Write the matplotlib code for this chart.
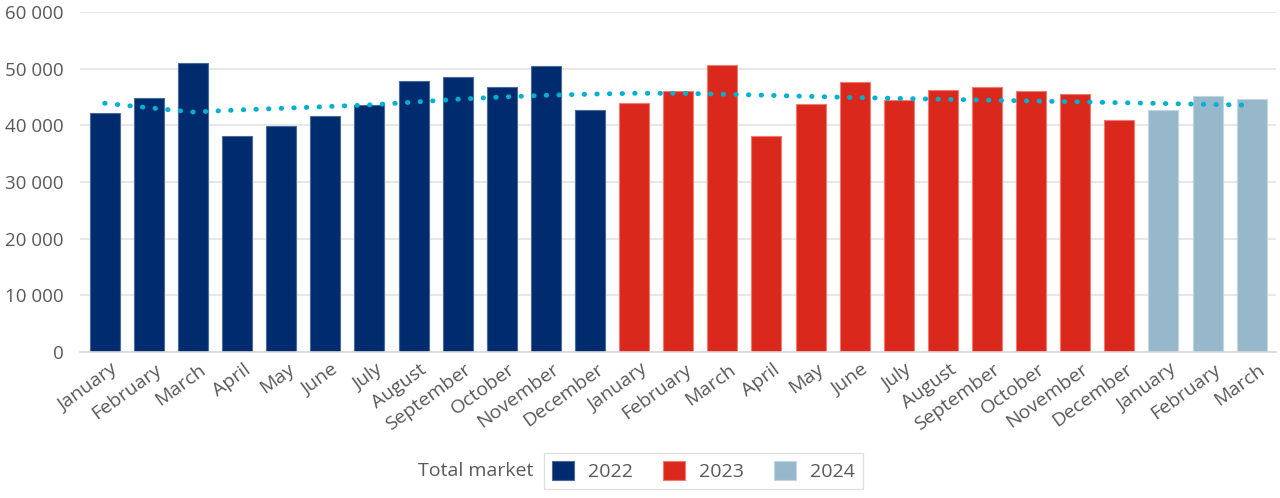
import matplotlib
matplotlib.use("agg")
import matplotlib.pyplot as plt
import matplotlib.transforms as mtransforms
from matplotlib.patches import Patch
from matplotlib.ticker import FuncFormatter

plt.rcParams['font.family'] = ['Open Sans', 'DejaVu Sans']

months = ['January', 'February', 'March', 'April', 'May', 'June', 'July',
          'August', 'September', 'October', 'November', 'December']
labels = months + months + months[:3]

sales_2022 = [42150, 44900, 51050, 38050, 39800, 41600, 43500, 47800, 48600, 46800, 50500, 42700]
sales_2023 = [44000, 46000, 50600, 38200, 43800, 47600, 44500, 46250, 46700, 46000, 45600, 40950]
sales_2024 = [42650, 45250, 44600]

# trend line (one value per month)
trend = [43900, 43100, 42350, 42700, 43000, 43300, 43600, 44100, 44600, 45000, 45300, 45500,
         45650, 45650, 45500, 45300, 45100, 44900, 44750, 44600, 44450, 44300, 44150, 44000,
         43850, 43700, 43550]

years = ['2022', '2023', '2024']
colors = ['#002B6E', '#DA291C', '#97B8CB']
edges = ['#4A6A9C', '#EE7A70', '#C2D6E2']

fig = plt.figure(figsize=(12.8, 4.98), dpi=100)
ax = fig.add_axes([0.0625, 0.293, 0.934, 0.683])

x0 = 0
for vals, c, ec in zip([sales_2022, sales_2023, sales_2024], colors, edges):
    xs = list(range(x0, x0 + len(vals)))
    ax.bar(xs, vals, width=0.68, color=c, edgecolor=ec, linewidth=0.8, zorder=2)
    x0 += len(vals)

ax.plot(range(len(trend)), trend, color='#00B0CF', linewidth=3.5,
        linestyle=(0, (0.1, 2.5)), dash_capstyle='round', zorder=3)

ax.set_ylim(0, 60000)
ax.set_xlim(-0.56, 26.54)
ax.set_yticks(range(0, 60001, 10000))
ax.yaxis.set_major_formatter(FuncFormatter(lambda v, p: f'{int(v):,}'.replace(',', ' ')))
ax.grid(axis='y', color='#E3E3E3', linewidth=1.2, zorder=0)
ax.set_axisbelow(True)
for s in ['top', 'right', 'left']:
    ax.spines[s].set_visible(False)
ax.spines['bottom'].set_color('#D9D9D9')
ax.spines['bottom'].set_linewidth(1.2)

ax.set_xticks(range(len(labels)))
ax.set_xticklabels(labels, rotation=36, ha='right', rotation_mode='anchor')
ax.tick_params(axis='both', length=0, labelsize=14, colors='#595959')
ax.tick_params(axis='y', labelsize=13.5, pad=12)
ax.tick_params(axis='x', pad=6)
shift = mtransforms.ScaledTranslation(6 / 100, 0, fig.dpi_scale_trans)
for lab in ax.get_xticklabels():
    lab.set_transform(lab.get_transform() + shift)

handles = [Patch(facecolor=c, edgecolor=ec, linewidth=0.8) for c, ec in zip(colors, edges)]
leg = fig.legend(handles, years, loc='center', bbox_to_anchor=(0.5496, 0.054), ncol=3,
                 fancybox=False, edgecolor='#D9D9D9', fontsize=14,
                 handlelength=1.15, handleheight=1.15, handletextpad=0.7,
                 columnspacing=1.55, borderpad=0.42)
leg.get_frame().set_linewidth(1.0)
for t in leg.get_texts():
    t.set_color('#595959')
fig.text(0.417, 0.054, 'Total market', fontsize=14, color='#595959', ha='right', va='center')

fig.savefig('out.png', dpi=100)
